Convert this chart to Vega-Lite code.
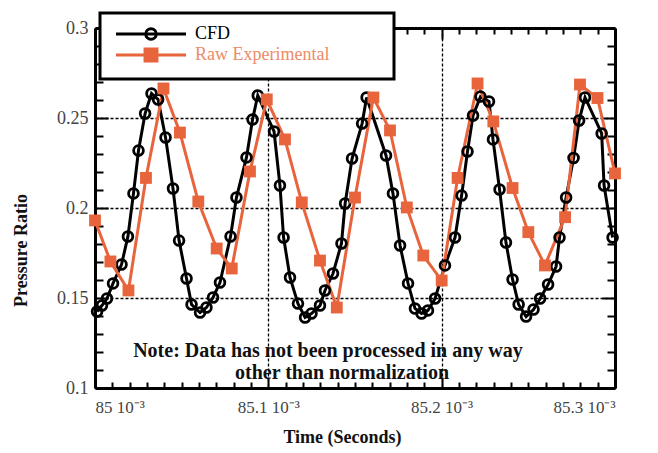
{
  "$schema": "https://vega.github.io/schema/vega-lite/v6.json",
  "width": 520,
  "height": 360,
  "autosize": "none",
  "padding": {"left": 95, "top": 28, "right": 43, "bottom": 65},
  "background": "white",
  "config": {
    "view": {"stroke": null},
    "font": "Liberation Serif",
    "axis": {
      "domainColor": "black", "domainWidth": 3, "tickColor": "black", "tickWidth": 2,
      "labelFont": "Liberation Serif", "labelFontSize": 17, "labelColor": "#444",
      "gridColor": "black", "gridDash": [3, 2], "gridWidth": 1.3, "labelOverlap": false,
      "titleFont": "Liberation Serif", "titleFontWeight": "bold", "titleFontSize": 18, "titleColor": "#111"
    }
  },
  "data": {"values": [
    {"series": "CFD", "time": 85.0012, "ratio": 0.1425},
    {"series": "CFD", "time": 85.0040, "ratio": 0.1458},
    {"series": "CFD", "time": 85.0069, "ratio": 0.1497},
    {"series": "CFD", "time": 85.0104, "ratio": 0.1581},
    {"series": "CFD", "time": 85.0153, "ratio": 0.1686},
    {"series": "CFD", "time": 85.0190, "ratio": 0.1842},
    {"series": "CFD", "time": 85.0222, "ratio": 0.2081},
    {"series": "CFD", "time": 85.0251, "ratio": 0.2319},
    {"series": "CFD", "time": 85.0289, "ratio": 0.2525},
    {"series": "CFD", "time": 85.0326, "ratio": 0.2636},
    {"series": "CFD", "time": 85.0364, "ratio": 0.2603},
    {"series": "CFD", "time": 85.0407, "ratio": 0.2392},
    {"series": "CFD", "time": 85.0450, "ratio": 0.2108},
    {"series": "CFD", "time": 85.0485, "ratio": 0.1819},
    {"series": "CFD", "time": 85.0528, "ratio": 0.1608},
    {"series": "CFD", "time": 85.0557, "ratio": 0.1464},
    {"series": "CFD", "time": 85.0606, "ratio": 0.1419},
    {"series": "CFD", "time": 85.0643, "ratio": 0.1447},
    {"series": "CFD", "time": 85.0681, "ratio": 0.1503},
    {"series": "CFD", "time": 85.0721, "ratio": 0.1586},
    {"series": "CFD", "time": 85.0782, "ratio": 0.1842},
    {"series": "CFD", "time": 85.0816, "ratio": 0.2058},
    {"series": "CFD", "time": 85.0874, "ratio": 0.2281},
    {"series": "CFD", "time": 85.0909, "ratio": 0.2492},
    {"series": "CFD", "time": 85.0939, "ratio": 0.2625},
    {"series": "CFD", "time": 85.1033, "ratio": 0.2425},
    {"series": "CFD", "time": 85.1067, "ratio": 0.2125},
    {"series": "CFD", "time": 85.1088, "ratio": 0.1836},
    {"series": "CFD", "time": 85.1125, "ratio": 0.1614},
    {"series": "CFD", "time": 85.1171, "ratio": 0.1469},
    {"series": "CFD", "time": 85.1212, "ratio": 0.1392},
    {"series": "CFD", "time": 85.1249, "ratio": 0.1414},
    {"series": "CFD", "time": 85.1298, "ratio": 0.1458},
    {"series": "CFD", "time": 85.1327, "ratio": 0.1542},
    {"series": "CFD", "time": 85.1373, "ratio": 0.1636},
    {"series": "CFD", "time": 85.1422, "ratio": 0.1803},
    {"series": "CFD", "time": 85.1443, "ratio": 0.2025},
    {"series": "CFD", "time": 85.1483, "ratio": 0.2275},
    {"series": "CFD", "time": 85.1541, "ratio": 0.2469},
    {"series": "CFD", "time": 85.1567, "ratio": 0.2614},
    {"series": "CFD", "time": 85.1679, "ratio": 0.2292},
    {"series": "CFD", "time": 85.1719, "ratio": 0.2081},
    {"series": "CFD", "time": 85.1760, "ratio": 0.1792},
    {"series": "CFD", "time": 85.1806, "ratio": 0.1581},
    {"series": "CFD", "time": 85.1846, "ratio": 0.1442},
    {"series": "CFD", "time": 85.1884, "ratio": 0.1414},
    {"series": "CFD", "time": 85.1921, "ratio": 0.1431},
    {"series": "CFD", "time": 85.1962, "ratio": 0.1497},
    {"series": "CFD", "time": 85.2019, "ratio": 0.1681},
    {"series": "CFD", "time": 85.2077, "ratio": 0.1836},
    {"series": "CFD", "time": 85.2115, "ratio": 0.2069},
    {"series": "CFD", "time": 85.2149, "ratio": 0.2314},
    {"series": "CFD", "time": 85.2181, "ratio": 0.2514},
    {"series": "CFD", "time": 85.2224, "ratio": 0.2619},
    {"series": "CFD", "time": 85.2273, "ratio": 0.2592},
    {"series": "CFD", "time": 85.2296, "ratio": 0.2381},
    {"series": "CFD", "time": 85.2334, "ratio": 0.2103},
    {"series": "CFD", "time": 85.2371, "ratio": 0.1808},
    {"series": "CFD", "time": 85.2409, "ratio": 0.1603},
    {"series": "CFD", "time": 85.2444, "ratio": 0.1464},
    {"series": "CFD", "time": 85.2487, "ratio": 0.1397},
    {"series": "CFD", "time": 85.2530, "ratio": 0.1436},
    {"series": "CFD", "time": 85.2568, "ratio": 0.1497},
    {"series": "CFD", "time": 85.2614, "ratio": 0.1575},
    {"series": "CFD", "time": 85.2660, "ratio": 0.1675},
    {"series": "CFD", "time": 85.2680, "ratio": 0.1836},
    {"series": "CFD", "time": 85.2718, "ratio": 0.2058},
    {"series": "CFD", "time": 85.2761, "ratio": 0.2278},
    {"series": "CFD", "time": 85.2793, "ratio": 0.2486},
    {"series": "CFD", "time": 85.2827, "ratio": 0.2614},
    {"series": "CFD", "time": 85.2923, "ratio": 0.2414},
    {"series": "CFD", "time": 85.2937, "ratio": 0.2125},
    {"series": "CFD", "time": 85.2986, "ratio": 0.1836},
    {"series": "Raw Experimental", "time": 85.0000, "ratio": 0.1931},
    {"series": "Raw Experimental", "time": 85.0089, "ratio": 0.1703},
    {"series": "Raw Experimental", "time": 85.0193, "ratio": 0.1542},
    {"series": "Raw Experimental", "time": 85.0294, "ratio": 0.2167},
    {"series": "Raw Experimental", "time": 85.0395, "ratio": 0.2664},
    {"series": "Raw Experimental", "time": 85.0490, "ratio": 0.2419},
    {"series": "Raw Experimental", "time": 85.0596, "ratio": 0.2036},
    {"series": "Raw Experimental", "time": 85.0702, "ratio": 0.1775},
    {"series": "Raw Experimental", "time": 85.0789, "ratio": 0.1664},
    {"series": "Raw Experimental", "time": 85.0894, "ratio": 0.2203},
    {"series": "Raw Experimental", "time": 85.0991, "ratio": 0.2603},
    {"series": "Raw Experimental", "time": 85.1096, "ratio": 0.2381},
    {"series": "Raw Experimental", "time": 85.1193, "ratio": 0.2031},
    {"series": "Raw Experimental", "time": 85.1298, "ratio": 0.1708},
    {"series": "Raw Experimental", "time": 85.1395, "ratio": 0.1447},
    {"series": "Raw Experimental", "time": 85.1500, "ratio": 0.2058},
    {"series": "Raw Experimental", "time": 85.1606, "ratio": 0.2614},
    {"series": "Raw Experimental", "time": 85.1702, "ratio": 0.2431},
    {"series": "Raw Experimental", "time": 85.1799, "ratio": 0.2003},
    {"series": "Raw Experimental", "time": 85.1894, "ratio": 0.1736},
    {"series": "Raw Experimental", "time": 85.2000, "ratio": 0.1597},
    {"series": "Raw Experimental", "time": 85.2092, "ratio": 0.2167},
    {"series": "Raw Experimental", "time": 85.2207, "ratio": 0.2692},
    {"series": "Raw Experimental", "time": 85.2298, "ratio": 0.2481},
    {"series": "Raw Experimental", "time": 85.2409, "ratio": 0.2111},
    {"series": "Raw Experimental", "time": 85.2500, "ratio": 0.1866},
    {"series": "Raw Experimental", "time": 85.2596, "ratio": 0.1681},
    {"series": "Raw Experimental", "time": 85.2712, "ratio": 0.1949},
    {"series": "Raw Experimental", "time": 85.2798, "ratio": 0.2686},
    {"series": "Raw Experimental", "time": 85.2899, "ratio": 0.2611},
    {"series": "Raw Experimental", "time": 85.3000, "ratio": 0.2192}
  ]},
  "resolve": {"axis": {"x": "independent", "y": "independent"}},
  "layer": [
    {
      "mark": {"type": "line", "strokeWidth": 3},
      "encoding": {
        "x": {"field": "time", "type": "quantitative",
          "scale": {"domain": [85, 85.3], "nice": false, "zero": false},
          "axis": {
            "orient": "bottom",
            "values": [85, 85.01, 85.02, 85.03, 85.04, 85.05, 85.06, 85.07, 85.08, 85.09, 85.1, 85.11, 85.12, 85.13, 85.14, 85.15, 85.16, 85.17, 85.18, 85.19, 85.2, 85.21, 85.22, 85.23, 85.24, 85.25, 85.26, 85.27, 85.28, 85.29, 85.3],
            "labelExpr": "abs(datum.value*10 - round(datum.value*10)) < 1e-6 ? (round(datum.value*10) == 850 ? '85 10⁻³' : format(datum.value, '.1f') + ' 10⁻³') : ''",
            "tickSize": {"condition": {"test": "abs(datum.value*10 - round(datum.value*10)) < 1e-6", "value": -11}, "value": -6},
            "labelPadding": 22,
            "grid": true,
            "gridOpacity": {"condition": {"test": "abs(datum.value*10 - round(datum.value*10)) < 1e-6 && datum.value > 85.05 && datum.value < 85.25", "value": 1}, "value": 0},
            "title": "Time (Seconds)",
            "titleX": 247, "titleY": 49, "titleAlign": "center", "titleBaseline": "middle"
          }
        },
        "y": {"field": "ratio", "type": "quantitative",
          "scale": {"domain": [0.1, 0.3], "nice": false, "zero": false},
          "axis": {
            "orient": "left",
            "values": [0.1, 0.11, 0.12, 0.13, 0.14, 0.15, 0.16, 0.17, 0.18, 0.19, 0.2, 0.21, 0.22, 0.23, 0.24, 0.25, 0.26, 0.27, 0.28, 0.29, 0.3],
            "labelExpr": "abs(datum.value*20 - round(datum.value*20)) < 1e-6 ? format(datum.value, '~g') : ''",
            "tickSize": {"condition": {"test": "abs(datum.value*20 - round(datum.value*20)) < 1e-6", "value": -13}, "value": -8},
            "labelPadding": 20,
            "labelFontSize": 18,
            "grid": true,
            "gridOpacity": {"condition": {"test": "abs(datum.value*20 - round(datum.value*20)) < 1e-6 && datum.value > 0.12 && datum.value < 0.28", "value": 1}, "value": 0},
            "title": "Pressure Ratio",
            "titleX": -74, "titleY": 222, "titleAlign": "center", "titleBaseline": "middle"
          }
        },
        "color": {"field": "series", "type": "nominal",
          "scale": {"domain": ["CFD", "Raw Experimental"], "range": ["#000000", "#e8643c"]},
          "legend": {
            "orient": "none", "legendX": 5, "legendY": -15, "title": null,
            "fillColor": "white", "strokeColor": "black",
            "padding": 12,
            "labelFont": "Liberation Serif", "labelFontSize": 18, "labelLimit": 400,
            "symbolSize": 196, "symbolStrokeWidth": 3,
            "symbolOffset": 30, "labelOffset": 35, "rowPadding": -9,
            "labelExpr": "datum.label + '\u2800\u2800\u2800\u2800'",
            "encoding": {
              "legend": {"strokeWidth": {"value": 3}},
              "symbols": {
                "shape": {"condition": {"test": "datum.value === 'CFD'", "value": "M-5,0H5M-0.75,0A0.75,0.75,0,1,1,0.75,0A0.75,0.75,0,1,1,-0.75,0"}, "value": "M-5,0H5M-0.85,-0.85H0.85V0.85H-0.85Z"},
                "fill": {"condition": {"test": "datum.value === 'CFD'", "value": "transparent"}, "value": "#e8643c"},
                "stroke": {"condition": {"test": "datum.value === 'CFD'", "value": "#000000"}, "value": "#e8643c"}
              },
              "labels": {
                "fill": {"condition": {"test": "datum.value === 'CFD'", "value": "#000000"}, "value": "#ec8c68"}
              }
            }
          }
        },
        "order": {"field": "time"}
      }
    },
    {
      "transform": [{"filter": "datum.series === 'CFD'"}],
      "mark": {"type": "point", "shape": "circle", "filled": false, "stroke": "#000000", "strokeWidth": 2.8, "size": 95, "opacity": 1},
      "encoding": {
        "x": {"field": "time", "type": "quantitative",
          "scale": {"domain": [85, 85.3], "nice": false, "zero": false},
          "axis": {
            "orient": "top", "labels": false, "title": null, "grid": false,
            "values": [85, 85.01, 85.02, 85.03, 85.04, 85.05, 85.06, 85.07, 85.08, 85.09, 85.1, 85.11, 85.12, 85.13, 85.14, 85.15, 85.16, 85.17, 85.18, 85.19, 85.2, 85.21, 85.22, 85.23, 85.24, 85.25, 85.26, 85.27, 85.28, 85.29, 85.3],
            "tickSize": {"condition": {"test": "abs(datum.value*10 - round(datum.value*10)) < 1e-6", "value": -11}, "value": -6}
          }
        },
        "y": {"field": "ratio", "type": "quantitative",
          "scale": {"domain": [0.1, 0.3], "nice": false, "zero": false},
          "axis": {
            "orient": "right", "labels": false, "title": null, "grid": false,
            "values": [0.1, 0.11, 0.12, 0.13, 0.14, 0.15, 0.16, 0.17, 0.18, 0.19, 0.2, 0.21, 0.22, 0.23, 0.24, 0.25, 0.26, 0.27, 0.28, 0.29, 0.3],
            "tickSize": {"condition": {"test": "abs(datum.value*20 - round(datum.value*20)) < 1e-6", "value": -13}, "value": -8}
          }
        }
      }
    },
    {
      "transform": [{"filter": "datum.series === 'Raw Experimental'"}],
      "mark": {"type": "square", "color": "#e8643c", "size": 140, "opacity": 1},
      "encoding": {
        "x": {"field": "time", "type": "quantitative", "scale": {"domain": [85, 85.3], "nice": false, "zero": false}, "axis": null},
        "y": {"field": "ratio", "type": "quantitative", "scale": {"domain": [0.1, 0.3], "nice": false, "zero": false}, "axis": null}
      }
    },
    {
      "data": {"values": [{}]},
      "mark": {"type": "text", "text": "Note:  Data has not been processed in any way", "font": "Liberation Serif", "fontWeight": "bold", "fontSize": 20, "color": "#111", "align": "center", "baseline": "middle"},
      "encoding": {
        "x": {"datum": 85.1344, "type": "quantitative", "scale": {"domain": [85, 85.3], "nice": false, "zero": false}, "axis": null},
        "y": {"datum": 0.1208, "type": "quantitative", "scale": {"domain": [0.1, 0.3], "nice": false, "zero": false}, "axis": null}
      }
    },
    {
      "data": {"values": [{}]},
      "mark": {"type": "text", "text": "other than normalization", "font": "Liberation Serif", "fontWeight": "bold", "fontSize": 20, "color": "#111", "align": "center", "baseline": "middle"},
      "encoding": {
        "x": {"datum": 85.1425, "type": "quantitative", "scale": {"domain": [85, 85.3], "nice": false, "zero": false}, "axis": null},
        "y": {"datum": 0.1086, "type": "quantitative", "scale": {"domain": [0.1, 0.3], "nice": false, "zero": false}, "axis": null}
      }
    }
  ]
}
